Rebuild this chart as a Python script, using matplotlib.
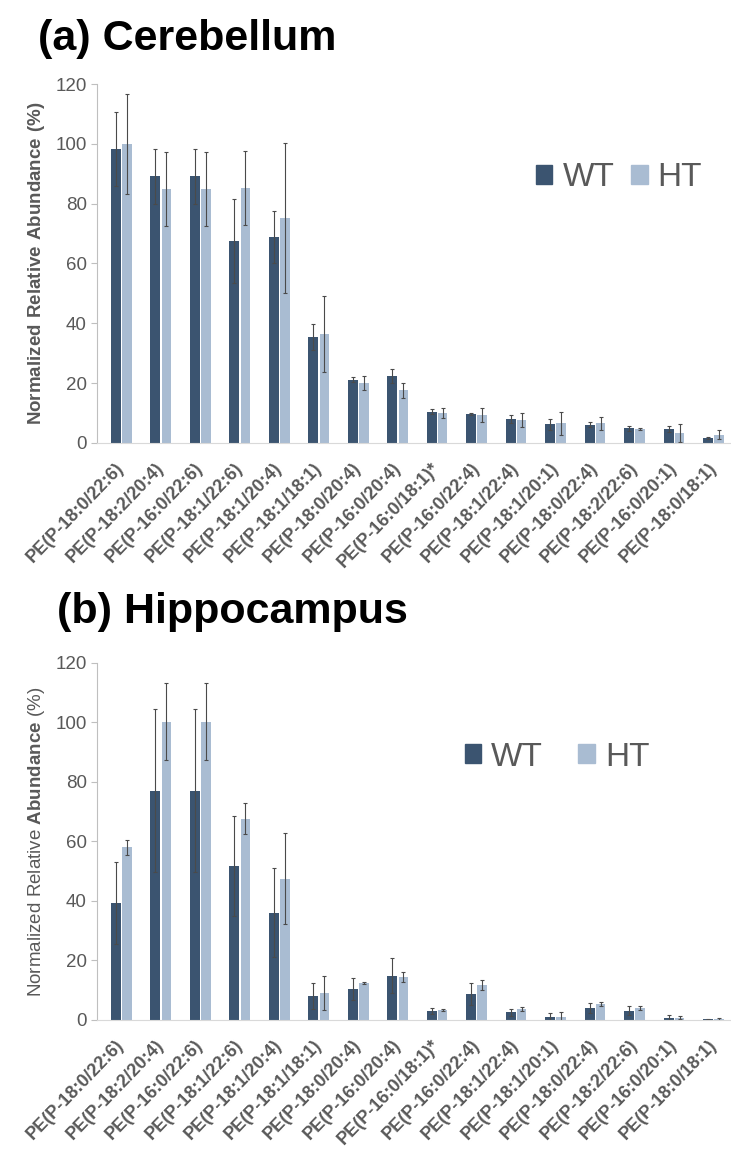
import numpy as np
import matplotlib.pyplot as plt
from matplotlib.patches import Patch

plt.rcParams['font.family'] = ['Liberation Sans', 'DejaVu Sans']
plt.rcParams['mathtext.fontset'] = 'custom'
plt.rcParams['mathtext.rm'] = 'Liberation Sans'
plt.rcParams['mathtext.bf'] = 'Liberation Sans:bold'

lipids = ['PE(P-18:0/22:6)', 'PE(P-18:2/20:4)', 'PE(P-16:0/22:6)', 'PE(P-18:1/22:6)',
          'PE(P-18:1/20:4)', 'PE(P-18:1/18:1)', 'PE(P-18:0/20:4)', 'PE(P-16:0/20:4)',
          'PE(P-16:0/18:1)*', 'PE(P-16:0/22:4)', 'PE(P-18:1/22:4)', 'PE(P-18:1/20:1)',
          'PE(P-18:0/22:4)', 'PE(P-18:2/22:6)', 'PE(P-16:0/20:1)', 'PE(P-18:0/18:1)']

# (a) cerebellum
cb_wt = [98.2, 89.1, 89.1, 67.5, 68.9, 35.4, 21.2, 22.3, 10.4, 9.7, 8.0, 6.2, 6.1, 4.9, 4.6, 1.7]
cb_wt_err = [12.3, 9.1, 9.1, 14.0, 8.8, 4.3, 0.9, 2.4, 0.8, 0.3, 1.3, 1.7, 0.9, 0.8, 1.0, 0.3]
cb_ht = [100.0, 84.9, 84.9, 85.3, 75.2, 36.3, 20.1, 17.6, 10.0, 9.4, 7.7, 6.6, 6.6, 4.6, 3.3, 2.8]
cb_ht_err = [16.6, 12.3, 12.3, 12.3, 25.0, 12.7, 2.3, 2.6, 1.7, 2.3, 2.3, 3.8, 2.1, 0.3, 2.9, 1.4]

# (b) hippocampus
hc_wt = [39.2, 77.0, 77.0, 51.7, 36.1, 8.1, 10.5, 14.9, 3.0, 8.7, 2.5, 1.1, 3.9, 3.1, 0.8, 0.2]
hc_wt_err = [13.8, 27.4, 27.4, 16.9, 15.1, 4.4, 3.7, 6.0, 1.1, 3.6, 1.1, 1.1, 1.7, 1.6, 0.9, 0.2]
hc_ht = [58.0, 100.2, 100.2, 67.6, 47.4, 9.0, 12.4, 14.4, 3.4, 11.8, 3.6, 1.1, 5.3, 4.1, 0.8, 0.3]
hc_ht_err = [2.5, 12.9, 12.9, 5.2, 15.3, 5.8, 0.3, 1.6, 0.3, 1.6, 0.7, 1.4, 0.6, 0.7, 0.5, 0.2]

dark = '#3b5470'
light = '#a9bcd2'
grey = '#595959'

fig = plt.figure(figsize=(7.31, 11.59), dpi=100)


def panel(rect, wt, wt_err, ht, ht_err, ylab):
    ax = fig.add_axes(rect)
    x = np.arange(len(lipids))
    ekw = dict(ecolor='#4a4a4a', elinewidth=0.8, capsize=1.5, capthick=0.8)
    ax.bar(x - 0.14, wt, 0.25, color=dark, yerr=wt_err, error_kw=ekw)
    ax.bar(x + 0.14, ht, 0.24, color=light, yerr=ht_err, error_kw=ekw)
    ax.set_xlim(-0.61, 15.44)
    ax.set_ylim(0, 120)
    ax.set_yticks(range(0, 121, 20))
    ax.set_xticks(x)
    ax.set_xticklabels(lipids, rotation=46, ha='right', va='center', rotation_mode='anchor',
                       fontsize=13, fontweight='bold', color=grey)
    ax.tick_params(axis='x', length=0, pad=16)
    ax.tick_params(axis='y', labelsize=13.5, labelcolor=grey, color='#bfbfbf', length=4, width=0.8)
    for s in ['top', 'right']:
        ax.spines[s].set_visible(False)
    ax.spines['left'].set_color('#bfbfbf')
    ax.spines['bottom'].set_color('#d9d9d9')
    ax.set_ylabel(ylab, color=grey, fontsize=13.5, labelpad=6)
    return ax


ax1 = panel([0.133, 0.6178, 0.867, 0.3097], cb_wt, cb_wt_err, cb_ht, cb_ht_err,
            r'$\mathbf{Normalized\ Relative\ Abundance\ (\%)}$')
ax2 = panel([0.133, 0.12, 0.867, 0.308], hc_wt, hc_wt_err, hc_ht, hc_ht_err,
            r'Normalized Relative $\mathbf{Abundance}$ (%)')

handles = [Patch(color=dark, label='WT'), Patch(color=light, label='HT')]
fig.legend(handles=handles, loc='center', bbox_to_anchor=(619 / 731, 1 - 178 / 1159),
           ncol=2, frameon=False, fontsize=24, labelcolor=grey, handlelength=0.5,
           handleheight=0.5, handletextpad=0.3, columnspacing=0.5)
fig.legend(handles=handles, loc='center', bbox_to_anchor=(557 / 731, 1 - 757 / 1159),
           ncol=2, frameon=False, fontsize=24, labelcolor=grey, handlelength=0.5,
           handleheight=0.5, handletextpad=0.3, columnspacing=1.05)

fig.text(38 / 731, 1 - 50 / 1159, '(a) Cerebellum', fontsize=31, fontweight='bold', va='baseline')
fig.text(57 / 731, 1 - 623 / 1159, '(b) Hippocampus', fontsize=31, fontweight='bold', va='baseline')

fig.savefig('out.png', dpi=100)
